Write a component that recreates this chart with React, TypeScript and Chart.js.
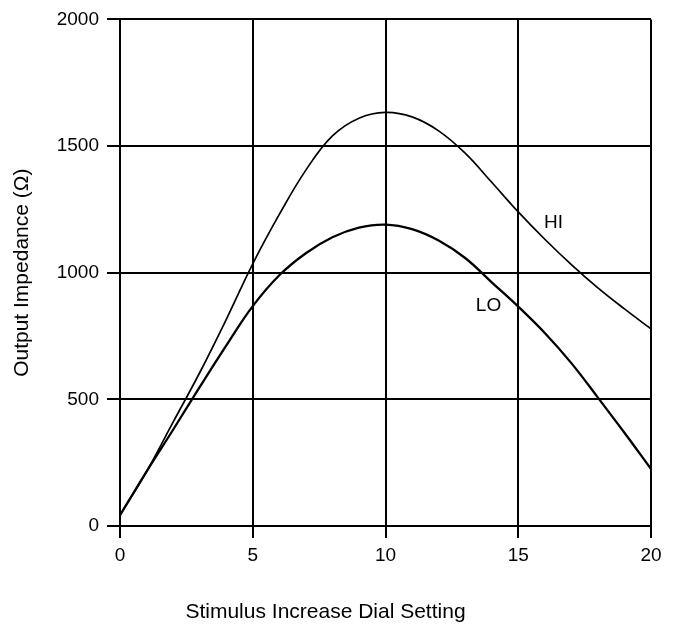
import React, { useEffect, useRef } from "react";
import { Chart, registerables } from "chart.js";

Chart.register(...registerables);

// Dial setting (x) values
const DIAL = [0, 1, 2, 3, 4, 5, 6, 7, 8, 9, 10, 11, 12, 13, 14, 15, 16, 17, 18, 19, 20];
// Output impedance (Ω), HI range
const HI = [43, 215, 410, 605, 815, 1035, 1230, 1405, 1540, 1610, 1633, 1615, 1560, 1472, 1357, 1240, 1132, 1032, 940, 857, 778];
// Output impedance (Ω), LO range
const LO = [43, 215, 380, 548, 712, 868, 990, 1077, 1140, 1178, 1190, 1172, 1127, 1058, 962, 866, 762, 643, 507, 368, 225];

const X_TICKS = [0, 5, 10, 15, 20];
const Y_TICKS = [0, 500, 1000, 1500, 2000];

const X_TITLE = "Stimulus Increase Dial Setting";
const Y_TITLE = "Output Impedance (Ω)";

// Curve labels, anchored in data coordinates
const CURVE_LABELS = ["HI", "LO"];
const CURVE_LABEL_X = [16.33, 13.88];
const CURVE_LABEL_Y = [1196, 870];

const FONT = "'Liberation Sans', Arial, Helvetica, sans-serif";

export default function App() {
  const ref = useRef<HTMLCanvasElement | null>(null);

  useEffect(() => {
    if (!ref.current) return;

    const curveLabels = {
      id: "curveLabels",
      afterDatasetsDraw(chart: any) {
        const { ctx, scales } = chart;
        ctx.save();
        ctx.fillStyle = "#000";
        ctx.font = `19px ${FONT}`;
        ctx.textAlign = "center";
        ctx.textBaseline = "middle";
        CURVE_LABELS.forEach((t, i) => {
          const px = scales.x.getPixelForValue(CURVE_LABEL_X[i]);
          const py = scales.y.getPixelForValue(CURVE_LABEL_Y[i]);
          ctx.fillText(t, px, py);
        });
        ctx.restore();
      },
    };

    const chart = new Chart(ref.current, {
      type: "line",
      data: {
        datasets: [
          {
            label: "HI",
            data: DIAL.map((x, i) => ({ x, y: HI[i] })),
            borderColor: "#000",
            borderWidth: 1.7,
            pointRadius: 0,
            tension: 0.4,
            fill: false,
          },
          {
            label: "LO",
            data: DIAL.map((x, i) => ({ x, y: LO[i] })),
            borderColor: "#000",
            borderWidth: 2.3,
            pointRadius: 0,
            tension: 0.4,
            fill: false,
          },
        ],
      },
      options: {
        animation: false,
        responsive: false,
        layout: { padding: { top: 17, right: 29, left: 0, bottom: 0 } },
        plugins: {
          legend: { display: false },
          tooltip: { enabled: false },
          title: {
            display: true,
            position: "bottom",
            text: X_TITLE,
            color: "#000",
            font: { family: FONT, size: 21, weight: "normal" },
            padding: { top: 0, bottom: 0 },
          },
        },
        scales: {
          x: {
            type: "linear",
            min: X_TICKS[0],
            max: X_TICKS[X_TICKS.length - 1],
            afterBuildTicks: (s: any) => {
              s.ticks = X_TICKS.map((v) => ({ value: v }));
            },
            afterFit: (s: any) => {
              s.height = 73.8;
            },
            grid: { color: "#000", lineWidth: 2, tickLength: 12, drawTicks: true },
            border: { display: true, color: "#000", width: 2 },
            ticks: {
              color: "#000",
              font: { family: FONT, size: 19 },
              padding: 6,
              maxRotation: 0,
              callback: (v: any) => String(v),
            },
          },
          y: {
            type: "linear",
            min: Y_TICKS[0],
            max: Y_TICKS[Y_TICKS.length - 1],
            afterBuildTicks: (s: any) => {
              s.ticks = Y_TICKS.map((v) => ({ value: v }));
            },
            afterFit: (s: any) => {
              s.width = 120;
            },
            grid: { color: "#000", lineWidth: 2, tickLength: 13, drawTicks: true },
            border: { display: true, color: "#000", width: 2 },
            ticks: {
              color: "#000",
              font: { family: FONT, size: 19 },
              padding: 8,
              callback: (v: any) => String(v),
            },
            title: {
              display: true,
              text: Y_TITLE,
              color: "#000",
              font: { family: FONT, size: 21, weight: "normal" },
              padding: { top: 10, bottom: 0 },
            },
          },
        },
      },
      plugins: [curveLabels],
    } as any);

    return () => chart.destroy();
  }, []);

  return (
    <div style={{ position: "absolute", left: 0, top: 0, width: 680, height: 625, background: "#fff" }}>
      <canvas ref={ref} width={680} height={625} style={{ display: "block" }} />
    </div>
  );
}
